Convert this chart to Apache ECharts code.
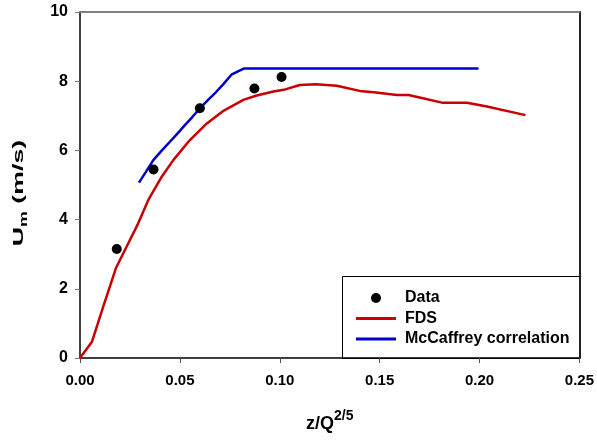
<!DOCTYPE html>
<html>
<head>
<meta charset="utf-8">
<script src="https://cdn.jsdelivr.net/npm/echarts@6/dist/echarts.min.js"></script>
<style>html,body{margin:0;padding:0;background:#fff}#c{width:597px;height:441px}</style>
</head>
<body>
<div id="c"></div>
<script>
// Data
var dataX = [0.0184, 0.0368, 0.0600, 0.0873, 0.1009];
var dataY = [3.15, 5.45, 7.22, 7.79, 8.12];

var fdsX = [0, 0.006, 0.012, 0.018, 0.0225, 0.0287, 0.0342, 0.0405, 0.0467, 0.055, 0.0635, 0.072, 0.0818, 0.088, 0.0968, 0.102, 0.110, 0.118, 0.1286, 0.140, 0.147, 0.1587, 0.1645, 0.170, 0.1812, 0.1937, 0.2037, 0.223];
var fdsY = [0, 0.47, 1.55, 2.6, 3.12, 3.84, 4.57, 5.2, 5.72, 6.3, 6.78, 7.15, 7.46, 7.58, 7.70, 7.75, 7.89, 7.91, 7.87, 7.72, 7.68, 7.60, 7.60, 7.53, 7.38, 7.38, 7.27, 7.02];

var mcX = [0.0295, 0.033, 0.0367, 0.041, 0.045, 0.049, 0.0525, 0.056, 0.0601, 0.064, 0.068, 0.072, 0.076, 0.0822, 0.1995];
var mcY = [5.07, 5.38, 5.72, 6.0, 6.25, 6.5, 6.73, 6.95, 7.22, 7.45, 7.68, 7.93, 8.2, 8.37, 8.37];

var xTicks = [0, 0.05, 0.10, 0.15, 0.20, 0.25];
var yTicks = [0, 2, 4, 6, 8, 10];

function zip(a, b) { return a.map(function (v, i) { return [v, b[i]]; }); }

var FONT = 'Liberation Sans';
var LINE_ICON = 'path://M0,0H40V3H0Z';
var chart = echarts.init(document.getElementById('c'));
chart.setOption({
  animation: false,
  backgroundColor: '#ffffff',
  grid: { left: 80, right: 17, top: 12, bottom: 83 },
  xAxis: [{
    type: 'value', min: xTicks[0], max: xTicks[xTicks.length - 1], interval: 0.05,
    name: '{a|z/Q}{b|2/5}', nameLocation: 'middle', nameGap: 51,
    nameTextStyle: {
      rich: {
        a: { fontFamily: FONT, fontWeight: 'bold', fontSize: 18, color: '#000', lineHeight: 24, verticalAlign: 'bottom' },
        b: { fontFamily: FONT, fontWeight: 'bold', fontSize: 14, color: '#000', lineHeight: 24, verticalAlign: 'top' }
      }
    },
    axisLine: { onZero: false, lineStyle: { color: '#000', width: 1.5 } },
    axisTick: { show: true, length: 5, lineStyle: { color: '#555', width: 1 } },
    axisLabel: { margin: 15, fontFamily: FONT, fontWeight: 'bold', fontSize: 15, color: '#000',
      formatter: function (v) { return v.toFixed(2); } },
    splitLine: { show: false }
  }, {
    type: 'value', position: 'top', min: 0, max: 0.25,
    axisLine: { show: true, onZero: false, lineStyle: { color: '#808080', width: 2 } },
    axisTick: { show: false }, axisLabel: { show: false }, splitLine: { show: false }
  }],
  yAxis: [{
    type: 'value', min: yTicks[0], max: yTicks[yTicks.length - 1], interval: 2,
    axisLine: { show: true, onZero: false, lineStyle: { color: '#000', width: 1.5 } },
    axisTick: { show: true, length: 5, lineStyle: { color: '#777', width: 1 } },
    axisLabel: { margin: 12, fontFamily: FONT, fontWeight: 'bold', fontSize: 16, color: '#000' },
    splitLine: { show: false }
  }, {
    type: 'value', position: 'right', min: 0, max: 10,
    axisLine: { show: true, onZero: false, lineStyle: { color: '#222', width: 2 } },
    axisTick: { show: false }, axisLabel: { show: false }, splitLine: { show: false }
  }],
  legend: {
    orient: 'vertical', left: 351, top: 285,
    itemWidth: 40, itemHeight: 10, itemGap: 4.5,
    textStyle: { fontFamily: FONT, fontWeight: 'bold', fontSize: 16, color: '#000', padding: [0, 0, 0, 4] },
    data: [
      { name: 'Data', icon: 'circle' },
      { name: 'FDS', icon: LINE_ICON },
      { name: 'McCaffrey correlation', icon: LINE_ICON }
    ]
  },
  graphic: [{
    type: 'rect', z: 0,
    shape: { x: 342.5, y: 276.5, width: 237, height: 82 },
    style: { fill: 'none', stroke: '#000', lineWidth: 1 }
  }, {
    type: 'text', x: 19, y: 193, rotation: Math.PI / 2, scaleX: 1.78, scaleY: 1,
    style: {
      text: '{u|U}{m|m}{t| (m/s)}',
      align: 'center', verticalAlign: 'middle',
      rich: {
        u: { fontFamily: FONT, fontWeight: 'bold', fontSize: 15, color: '#000', lineHeight: 20, verticalAlign: 'middle' },
        m: { fontFamily: FONT, fontWeight: 'bold', fontSize: 10, color: '#000', lineHeight: 20, verticalAlign: 'bottom' },
        t: { fontFamily: FONT, fontWeight: 'bold', fontSize: 15, color: '#000', lineHeight: 20, verticalAlign: 'middle' }
      }
    }
  }],
  series: [{
    name: 'FDS', type: 'line', data: zip(fdsX, fdsY), symbol: 'none', smooth: false,
    lineStyle: { color: '#c80000', width: 2.5 }, itemStyle: { color: '#c80000' }, z: 2
  }, {
    name: 'McCaffrey correlation', type: 'line', data: zip(mcX, mcY), symbol: 'none',
    lineStyle: { color: '#0000c8', width: 2.5 }, itemStyle: { color: '#0000c8' }, z: 3
  }, {
    name: 'Data', type: 'scatter', data: zip(dataX, dataY), symbol: 'circle', symbolSize: 10,
    itemStyle: { color: '#000', opacity: 1 }, z: 4
  }]
});
</script>
</body>
</html>
